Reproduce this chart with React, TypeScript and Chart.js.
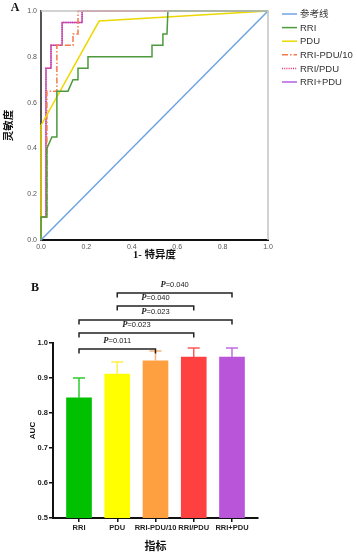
import React, { useEffect, useRef } from 'react';
import { Chart, registerables } from 'chart.js';

Chart.register(...registerables);

// ---------- Panel A: ROC data ----------
const rocNames = ['参考线', 'RRI', 'PDU', 'RRI-PDU/10', 'RRI/PDU', 'RRI+PDU'];
const refFpr = [0, 1];
const refTpr = [0, 1];
const rriFpr = [0, 0, 0.026, 0.026, 0.048, 0.07, 0.07, 0.119, 0.141, 0.163, 0.163, 0.207, 0.207, 0.489, 0.489, 0.537, 0.537, 0.555, 0.559, 1];
const rriTpr = [0, 0.1, 0.1, 0.4, 0.45, 0.45, 0.65, 0.65, 0.7, 0.7, 0.75, 0.75, 0.8, 0.8, 0.85, 0.85, 0.9, 0.9, 1, 1];
const pduFpr = [0, 0, 0.256, 1];
const pduTpr = [0, 0.5, 0.956, 1];
const diffFpr = [0, 0, 0.026, 0.026, 0.07, 0.07, 0.141, 0.141, 0.163, 0.163, 1];
const diffTpr = [0, 0.1, 0.1, 0.65, 0.65, 0.85, 0.85, 0.9, 0.9, 1, 1];
const ratioFpr = [0, 0, 0.022, 0.022, 0.044, 0.044, 0.093, 0.093, 0.181, 0.181, 1];
const ratioTpr = [0, 0.1, 0.1, 0.75, 0.75, 0.85, 0.85, 0.95, 0.95, 1, 1];
const sumFpr = [0, 0, 0.022, 0.022, 0.044, 0.044, 0.093, 0.093, 0.181, 0.181, 1];
const sumTpr = [0, 0.1, 0.1, 0.75, 0.75, 0.85, 0.85, 0.95, 0.95, 1, 1];
const rocTicks = [0, 0.2, 0.4, 0.6, 0.8, 1.0];

// ---------- Panel B: AUC data ----------
const categories = ['RRI', 'PDU', 'RRI-PDU/10', 'RRI/PDU', 'RRI+PDU'];
const aucValues = [0.843, 0.911, 0.949, 0.96, 0.96];
const aucUpper = [0.9, 0.946, 0.977, 0.986, 0.986];
const aucTicks = [0.5, 0.6, 0.7, 0.8, 0.9, 1.0];
const compFrom = [0, 0, 0, 1, 1];
const compTo = [2, 3, 4, 3, 4];
const compP = ['0.011', '0.023', '0.023', '0.040', '0.040'];

const pts = (xs: number[], ys: number[]) => xs.map((x, i) => ({ x, y: ys[i] }));

const SANS = '"Liberation Sans", Arial, "Noto Sans CJK SC", sans-serif';
const SERIF_CJK = '"Liberation Serif", "Times New Roman", "Noto Sans CJK SC", serif';

export default function App() {
  const refA = useRef<HTMLCanvasElement | null>(null);
  const refB = useRef<HTMLCanvasElement | null>(null);

  useEffect(() => {
    const legendPlugin = {
      id: 'manualLegend',
      afterDraw(chart: any) {
        const ctx = chart.ctx;
        const ca = chart.chartArea;
        ctx.save();
        ctx.strokeStyle = '#c4c4c4';
        ctx.lineWidth = 1.5;
        ctx.beginPath();
        ctx.moveTo(ca.left, ca.top);
        ctx.lineTo(ca.right, ca.top);
        ctx.lineTo(ca.right, ca.bottom);
        ctx.stroke();
        ctx.fillStyle = '#111';
        ctx.font = 'bold 12px "Liberation Serif", serif';
        ctx.textAlign = 'center';
        ctx.textBaseline = 'middle';
        ctx.fillText('A', 15, 8);
        chart.data.datasets.forEach((ds: any, i: number) => {
          const y = 14 + i * 13.6;
          const x0 = ca.right + 14;
          ctx.strokeStyle = ds.borderColor;
          ctx.lineWidth = 1.5;
          ctx.setLineDash(ds.borderDash || []);
          ctx.beginPath();
          ctx.moveTo(x0, y);
          ctx.lineTo(x0 + 15, y);
          ctx.stroke();
          ctx.setLineDash([]);
          ctx.fillStyle = '#333';
          ctx.font = '9.5px ' + SANS;
          ctx.textAlign = 'left';
          ctx.fillText(ds.label, x0 + 18, y + 0.5);
        });
        ctx.restore();
      },
    };

    const lineStyle = (color: string, dash: number[] = []) => ({
      borderColor: color,
      backgroundColor: color,
      borderWidth: 1.5,
      borderDash: dash,
      pointRadius: 0,
      tension: 0,
      fill: false,
      clip: 4,
    });

    const chartA = new Chart(refA.current as HTMLCanvasElement, {
      type: 'line',
      data: {
        datasets: [
          { label: rocNames[0], data: pts(refFpr, refTpr), ...lineStyle('#6fa3e0') },
          { label: rocNames[1], data: pts(rriFpr, rriTpr), ...lineStyle('#4c9a3c') },
          { label: rocNames[2], data: pts(pduFpr, pduTpr), ...lineStyle('#ecd800') },
          { label: rocNames[3], data: pts(diffFpr, diffTpr), ...lineStyle('#f47a4a', [6, 2, 1.5, 2]) },
          { label: rocNames[4], data: pts(ratioFpr, ratioTpr), ...lineStyle('#e8306a', [1, 1.2]) },
          { label: rocNames[5], data: pts(sumFpr, sumTpr), ...lineStyle('#b060e0') },
        ] as any,
      },
      options: {
        responsive: false,
        animation: false,
        layout: { padding: { top: 11, right: 89, left: 0, bottom: 0 } },
        plugins: { legend: { display: false }, tooltip: { enabled: false } },
        scales: {
          x: {
            type: 'linear',
            min: 0,
            max: 1,
            afterBuildTicks: (axis: any) => {
              axis.ticks = rocTicks.map((v) => ({ value: v }));
            },
            afterFit: (axis: any) => {
              axis.height = 25;
            },
            grid: { display: false, drawTicks: false },
            border: { display: true, color: '#111', width: 2 },
            ticks: {
              padding: 3,
              color: '#555',
              font: { size: 7, family: SANS },
              maxRotation: 0,
              callback: (v: any) => Number(v).toFixed(1),
            },
            title: {
              display: true,
              text: '1- 特异度',
              color: '#111',
              font: { size: 10.5, weight: 'bold', family: SERIF_CJK },
              padding: { top: 0, bottom: 3 },
            },
          },
          y: {
            type: 'linear',
            min: 0,
            max: 1,
            afterBuildTicks: (axis: any) => {
              axis.ticks = rocTicks.map((v) => ({ value: v }));
            },
            afterFit: (axis: any) => {
              axis.width = 41;
            },
            grid: { display: false, drawTicks: false },
            border: { display: true, color: '#555', width: 2 },
            ticks: {
              padding: 4,
              color: '#555',
              font: { size: 7, family: SANS },
              callback: (v: any) => Number(v).toFixed(1),
            },
            title: {
              display: true,
              text: '灵敏度',
              color: '#111',
              font: { size: 10.5, weight: 'bold', family: SERIF_CJK },
              padding: { top: 3, bottom: 0 },
            },
          },
        },
      } as any,
      plugins: [legendPlugin],
    });

    const barColors = ['#00c000', '#ffff00', '#ffa040', '#ff4040', '#b855d8'];
    const whiskerColors = ['#2ecc2e', '#fff04a', '#f7b477', '#ff5a5a', '#c06ee0'];

    const annotPlugin = {
      id: 'aucAnnotations',
      afterDatasetsDraw(chart: any) {
        const ctx = chart.ctx;
        const xs = chart.scales.x;
        const ys = chart.scales.y;
        ctx.save();
        aucValues.forEach((v, i) => {
          const x = xs.getPixelForValue(i);
          const yb = ys.getPixelForValue(v);
          const yt = ys.getPixelForValue(aucUpper[i]);
          ctx.strokeStyle = whiskerColors[i];
          ctx.lineWidth = 1.5;
          ctx.beginPath();
          ctx.moveTo(x, yb);
          ctx.lineTo(x, yt);
          ctx.moveTo(x - 6, yt);
          ctx.lineTo(x + 6, yt);
          ctx.stroke();
        });
        ctx.restore();
      },
      afterDraw(chart: any) {
        const ctx = chart.ctx;
        const xs = chart.scales.x;
        const top = chart.chartArea.top;
        const levels = [6, -10, -23, -37, -50];
        ctx.save();
        ctx.fillStyle = '#111';
        ctx.font = 'bold 12px "Liberation Serif", serif';
        ctx.textAlign = 'center';
        ctx.textBaseline = 'middle';
        ctx.fillText('B', 35, 23);
        compFrom.forEach((f, k) => {
          const x1 = xs.getPixelForValue(f);
          const x2 = xs.getPixelForValue(compTo[k]);
          const y = top + levels[k];
          ctx.strokeStyle = '#222';
          ctx.lineWidth = 1.5;
          ctx.beginPath();
          ctx.moveTo(x1, y + 4.5);
          ctx.lineTo(x1, y);
          ctx.lineTo(x2, y);
          ctx.lineTo(x2, y + 4.5);
          ctx.stroke();
          const pFont = 'italic bold 8.5px "Liberation Serif", serif';
          const rFont = '7.5px ' + SANS;
          const rest = '=' + compP[k];
          ctx.font = pFont;
          const wP = ctx.measureText('P').width;
          ctx.font = rFont;
          const wR = ctx.measureText(rest).width;
          const cx = (x1 + x2) / 2;
          const sx = cx - (wP + wR) / 2;
          const ty = y - 8;
          ctx.textAlign = 'left';
          ctx.fillStyle = '#222';
          ctx.font = pFont;
          ctx.fillText('P', sx, ty);
          ctx.font = rFont;
          ctx.fillText(rest, sx + wP, ty);
        });
        ctx.restore();
      },
    };

    const chartB = new Chart(refB.current as HTMLCanvasElement, {
      type: 'bar',
      data: {
        datasets: [
          {
            label: 'AUC',
            data: categories.map((c, i) => ({ x: i, y: aucValues[i] })),
            backgroundColor: barColors,
            borderWidth: 0,
            barThickness: 25,
          },
        ] as any,
      },
      options: {
        responsive: false,
        animation: false,
        layout: { padding: { top: 78, right: 99, left: 0, bottom: 0 } },
        plugins: { legend: { display: false }, tooltip: { enabled: false } },
        scales: {
          x: {
            type: 'linear',
            offset: false,
            min: -0.68,
            max: 4.68,
            afterBuildTicks: (axis: any) => {
              axis.ticks = categories.map((c, i) => ({ value: i }));
            },
            afterFit: (axis: any) => {
              axis.height = 36;
            },
            grid: { display: true, offset: false, drawOnChartArea: false, drawTicks: true, tickLength: 4, color: '#111', lineWidth: 1.5 },
            border: { display: true, color: '#111', width: 2 },
            ticks: {
              padding: 1,
              color: '#222',
              autoSkip: false,
              maxRotation: 0,
              font: { size: 7.5, weight: 'bold', family: SANS },
              callback: (v: any) => categories[Math.round(Number(v))] ?? '',
            },
            title: {
              display: true,
              text: '指标',
              color: '#111',
              font: { size: 11, weight: 'bold', family: SERIF_CJK },
              padding: { top: 0, bottom: 0 },
            },
          },
          y: {
            type: 'linear',
            min: 0.5,
            max: 1.0,
            afterBuildTicks: (axis: any) => {
              axis.ticks = aucTicks.map((v) => ({ value: v }));
            },
            afterFit: (axis: any) => {
              axis.width = 53;
            },
            grid: { display: true, drawOnChartArea: false, drawTicks: true, tickLength: 4, color: '#111', lineWidth: 1.5 },
            border: { display: true, color: '#111', width: 2 },
            ticks: {
              padding: 1,
              color: '#222',
              font: { size: 7.5, weight: 'bold', family: SANS },
              callback: (v: any) => Number(v).toFixed(1),
            },
            title: {
              display: true,
              text: 'AUC',
              color: '#111',
              font: { size: 8, weight: 'bold', family: SANS },
              padding: { top: 28, bottom: 0 },
            },
          },
        },
      } as any,
      plugins: [annotPlugin],
    });

    return () => {
      chartA.destroy();
      chartB.destroy();
    };
  }, []);

  return (
    <div style={{ position: 'absolute', left: 0, top: 0, width: 357, height: 554, background: '#fff' }}>
      <canvas ref={refA} width={357} height={265} style={{ display: 'block', width: 357, height: 265 }} />
      <canvas ref={refB} width={357} height={289} style={{ display: 'block', width: 357, height: 289 }} />
    </div>
  );
}
